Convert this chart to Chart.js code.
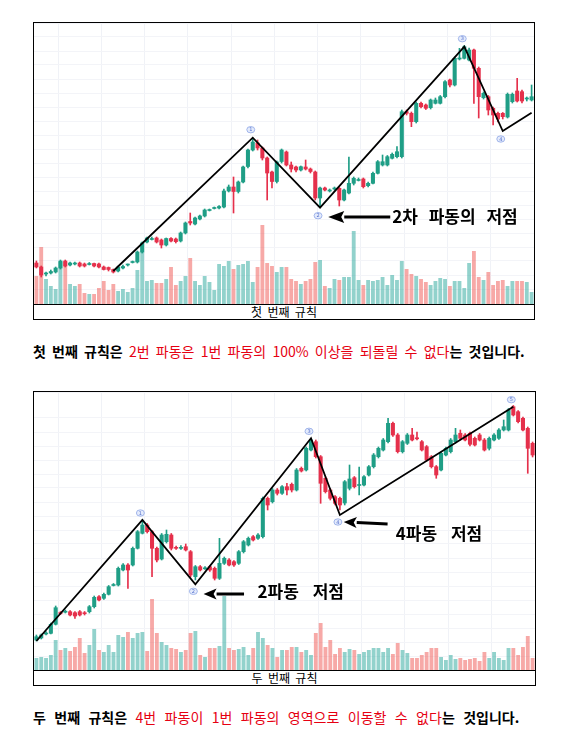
<!DOCTYPE html>
<html lang="ko">
  <head>
    <meta charset="UTF-8" />
    <title>파동 규칙</title>
    <script src="https://cdn.jsdelivr.net/npm/chart.js"></script>
    <style>
      body { margin: 0; background: #fff; width: 565px; height: 749px; position: relative; overflow: hidden; font-family: "Noto Sans CJK KR", sans-serif; }
      .panel { position: absolute; border: 1px solid #000; }
      .plot { position: relative; }
      .cap { height: 14px; border-top: 1px solid #000; font-size: 12px; line-height: 14px; text-align: center; word-spacing: 2px; }
      .rule { position: absolute; left: 33px; margin: 0; font-size: 14px; line-height: 16px; white-space: nowrap; word-spacing: 2.3px; color: #000; }
      .rule b { font-weight: 700; }
      .rule span { color: #e60012; }
    </style>
  </head>
  <body>
    <div class="panel" style="left:33px;top:22px;width:500px">
      <div class="plot" style="height:281px"><canvas id="chart1"></canvas></div>
      <div class="cap">첫 번째 규칙</div>
    </div>
    <p class="rule" style="top:343px"><b>첫 번째 규칙은 </b><span>2번 파동은 1번 파동의 100% 이상을 되돌릴 수 없다</span><b>는 것입니다.</b></p>

    <div class="panel" style="left:33px;top:391px;width:501px">
      <div class="plot" style="height:278px"><canvas id="chart2"></canvas></div>
      <div class="cap">두 번째 규칙</div>
    </div>
    <p class="rule" style="top:709px;word-spacing:4.5px"><b>두 번째 규칙은 </b><span>4번 파동이 1번 파동의 영역으로 이동할 수 없다</span><b>는 것입니다.</b></p>

    <script>
      // ---- first chart (rule 1) ----
      const open1 = [40,36,29,30,31,35,42,38,39,40,39,38.5,39.5,39,36,35.5,33.5,32,35,38,
        40.5,41,51,61,63.5,65,63,58,64.5,64,62,70,81.5,79,84,87,92.5,94.5,95,96,
        112,116,111.5,121,136.5,153,160,155,145,131,121.5,141.5,151,138,136,133,136,134,131,105,
        115,112,114,114.7,103,110,119.7,122.5,124,117.3,119.7,129.7,138,138,144.7,146.3,146.3,191.3,189.7,181.3,
        199.7,198,195.3,199.7,199.7,206.3,223,218,244,244.7,243,253,234.7,205.3,206.3,194.7,189.7,189.7,186,201.3,
        212,211.3,204,203];
      const high1 = [42,37,31,33,36,43,43,41,41,41,40,40.5,40,40,37,36,34,37,38,39,
        42,52,61,66,66,66,64,65,65.5,65,71,81,90,86,88,94,94,96,97.5,114,
        118,126,122,137,154,165,163,156,146,132,142,154,152,141,137,137,143,135,132,116,
        116,114,116,115.5,114,146,126,125,125,121,131,142.5,148,147.5,150,156.3,193,193,191,201,
        201,199,204,205,207.5,222.5,224,246,254.7,257.5,255,254,236,211,207.5,196,191,190.5,210,210,
        224.7,213,206,218];
      const low1 = [35,26,27,29,30,34,36,37,38,36,36,38,36,35,33,32,30,31,34,37,
        40,40,50,60,63,60,55,57,61,60,61,69,78,78,83,86,92,94,94,95,
        111,90,110,120,135,152,153,143,103,115,120,140,137,131,131,132,133,130,103,96,
        112,111,113,97,102,109,118,122,115,116,119,129,137,137,144,145,145,188,176.3,180,
        195,193.5,194,199,199,205,216,217,243,244,242,199.7,185,204,188,178,181,184,185,200,
        201,200,202,202];
      const close1 = [36,28,30,31.5,35,42,37,40,40,37,37,39.5,37,36,33.5,33.5,31,36,36.5,38.5,
        41.5,51,60,65,64.5,61,58,64.5,62,61.3,70,80,80,85,87,93,93.5,95.5,96.5,112,
        116,111.5,121,136,153,161,155,145,130,121.5,141,153,138,134,133,136.3,134,131.5,105,115,
        113,112.8,115,103,113,119.7,124.7,123.5,116.3,119.7,129.7,141.3,141.3,146.3,148.7,151.3,191.3,189.7,181.3,199.7,
        196.3,194.7,203,203,206.3,221.3,218,244.7,245,256.3,253,234.7,206.3,209.7,193,188,184,186.3,208.7,208.7,
        202,202,205,206.3];
      const volume1 = [28,57,25,18,15,42,42,20,18,20,11,10,10,16,23,14,20,13,15,12,
        16,34,52,23,24,21,21,25,37,19,23,28,46,23,19,28,22,14,40,38,
        43,35,39,40,43,22,37,79,41,38,32,37,37,25,23,20,23,25,42,44,
        18,16,25,24,27,27,73,24,19,24,23,24,27,19,29,24,43,35,30,28,
        25,22,19,23,26,25,18,23,23,16,41,53,27,24,32,19,23,24,18,23,
        23,23,22,12];
      const waveIdx1 = [16, 45, 59, 89, 97, 103];
      const wavePrice1 = [32, 165.3, 95.3, 256.3, 172, 190.3];
      const waveTags1 = ["", "①", "②", "③", "④", ""];

      // ---- second chart (rule 2) ----
      const open2 = [30,32,36,36.7,45.7,57.5,57.8,58.3,57.3,58.3,57.3,58.3,63.3,73.3,71.7,75.7,84.5,85,100,105,
        105,121.7,136.7,145,138.3,121.7,111,128.3,135,122.7,121.7,123.3,118.3,93.3,103.3,101.2,103.3,101.7,91.7,106.7,
        110,108.3,106.7,118.3,125,133.3,131.7,133.3,171.7,168.3,180,176.7,183.3,185.7,180,201.7,200,220,228.3,213.3,
        191.7,180,173.3,171.7,167,181.7,192.3,184.5,185,195,203.3,213.3,220,228.3,246.7,235,218.3,226.7,235,232.2,
        228.3,223.3,213.3,203.3,200,215,218.3,228.3,236.7,235,236.7,231.7,235,230,221.7,230,231.7,240,240,263.3,
        258.3,251.7,241.7,226.7];
      const high2 = [35,36,38.5,47,64,58.5,60,59.5,58.5,59.5,58.5,64.5,74,74.5,77,84.5,86.5,103,106.5,106.5,
        123,139.5,150,146.5,139.5,123,136.5,140,136.5,124,124.5,126,119.5,104.5,104.5,103.5,104.5,103,131.7,113,
        111.5,109.5,119.5,129.5,133,134.5,136.5,173,173,181.5,181.5,184.5,186.7,187,201.5,203,223,231.7,230,214.5,
        193,181.5,174.5,173,189.5,205,193.5,203,194.5,204.5,216.5,223,231.5,251.7,248,236.5,229.5,236.5,241.7,238,
        229.5,224.5,214.5,204.5,218,223,231.5,241.7,240,236.5,238,233,236.5,231.5,233,236.5,241.5,250,261.5,264.5,
        259.5,253,243,228];
      const low2 = [29,31,35,36,45,55.5,57,54,51.7,54,55,57,62,69,70.5,75,84,84,99,81.7,
        104,121,136,137,93.3,108,110,127,120,120.5,120.5,119,93,90,99,100.5,98.5,90,90.5,105.5,
        104,103.5,105.5,117,124,129,130.5,132,160,167,175,175.5,175,178,179,198,199,219,212,166.7,
        177,170,165,160,165,180,182,175,184,194,202,212,219,227,233.5,217,217,225.5,229,230,
        219,209,202,191.7,199,214,217,227,230,229,224,224,229,219,220,229,230.5,239,239,254,
        247,239,196.7,213];
      const close2 = [33.3,35,37,45.7,62.3,56.5,58.8,55,54,55,56.3,63.3,72.7,70,75.7,83.3,85.5,101.7,105,100,
        121.7,138.3,145,138.3,121.7,110,135,135.7,121.7,121.7,122.7,120,95,103.3,100,102.2,100,91.7,106.7,111.7,
        105,105,118.3,128.3,131.7,130,135,171.7,165,180,176.7,183.3,180,180,200,199,221.7,230,213.3,186.7,
        178.3,171.7,166.7,165,188.3,191,183.3,185.5,193.3,203.3,215,221.7,230,246.7,235,218.3,228.3,235,230,231.2,
        220,210,203.3,195,216.7,221.7,230,235,231.7,230,225.7,225,230,220,231.7,235,240,243.3,260,255,
        248.3,240,221.7,215];
      const volume2 = [12,13,12,15,30,20,22,19,23,32,17,25,41,20,18,25,18,35,33,38,
        32,37,38,19,71,37,28,25,22,21,18,20,37,39,15,13,22,22,24,74,
        22,20,21,23,15,22,38,32,25,22,13,20,20,23,23,18,20,15,37,47,
        23,30,16,22,18,21,20,16,18,20,22,22,18,22,16,27,20,17,12,12,
        15,18,22,22,13,10,15,11,12,10,11,12,9,18,12,18,12,10,22,22,
        15,23,34,12];
      const waveIdx2 = [0, 22, 33, 57, 63, 99];
      const wavePrice2 = [29, 150, 85.7, 231.7, 155, 263.3];
      const waveTags2 = ["", "①", "②", "③", "④", "⑤"];

      const UP = "#1f9e86";
      const DOWN = "#e5304b";
      const UP_VOL = "rgba(38,166,154,0.5)";
      const DOWN_VOL = "rgba(239,83,80,0.5)";

      // draws the circled wave numbers, arrows and callouts
      function makeNotes(waveIdx, wavePrice, tags, tagGap, arrows) {
        return {
          id: "notes",
          afterDatasetsDraw(chart) {
            const ctx = chart.ctx;
            const x = chart.scales.x, y = chart.scales.y;
            ctx.save();
            waveIdx.forEach((k, j) => {
              if (!tags[j]) return;
              const prev = j > 0 ? wavePrice[j - 1] : wavePrice[j + 1];
              const dy = wavePrice[j] > prev ? -tagGap : tagGap;
              const px = x.getPixelForValue(k) - 2;
              const py = y.getPixelForValue(wavePrice[j]) + dy;
              ctx.beginPath();
              ctx.ellipse(px, py, 4, 3.2, 0, 0, Math.PI * 2);
              ctx.fillStyle = "#e4ebfc";
              ctx.fill();
              ctx.lineWidth = 0.8;
              ctx.strokeStyle = "#8fa7e6";
              ctx.stroke();
              ctx.fillStyle = "#5570cc";
              ctx.font = "5px 'DejaVu Sans'";
              ctx.textAlign = "center";
              ctx.textBaseline = "middle";
              ctx.fillText(String(j), px, py + 0.3);
            });
            arrows.forEach(a => {
              const tx = x.getPixelForValue(a.tip[0]), ty = y.getPixelForValue(a.tip[1]);
              const sx = x.getPixelForValue(a.tail[0]), sy = y.getPixelForValue(a.tail[1]);
              const ang = Math.atan2(ty - sy, tx - sx);
              const bx = tx - Math.cos(ang) * a.head, by = ty - Math.sin(ang) * a.head;
              ctx.strokeStyle = "#000";
              ctx.fillStyle = "#000";
              ctx.lineWidth = 3;
              ctx.beginPath();
              ctx.moveTo(sx, sy);
              ctx.lineTo(bx, by);
              ctx.stroke();
              ctx.beginPath();
              ctx.moveTo(tx, ty);
              ctx.lineTo(bx - Math.sin(ang) * a.half, by + Math.cos(ang) * a.half);
              ctx.lineTo(bx + Math.cos(ang) * 3, by + Math.sin(ang) * 3);
              ctx.lineTo(bx + Math.sin(ang) * a.half, by - Math.cos(ang) * a.half);
              ctx.closePath();
              ctx.fill();
              ctx.font = "bold 17px 'Noto Sans CJK KR'";
              ctx.wordSpacing = a.gap + "px";
              ctx.textAlign = "left";
              ctx.textBaseline = "middle";
              ctx.fillText(a.text, x.getPixelForValue(a.at[0]), y.getPixelForValue(a.at[1]));
              ctx.wordSpacing = "0px";
            });
            ctx.restore();
          },
        };
      }

      function candleChart(id, o, h, l, c, v, waveIdx, wavePrice, tags, yMin, yMax, tagGap, arrows) {
        const labels = o.map((_, i) => i);
        const up = o.map((op, i) => c[i] >= op);
        const wave = labels.map(() => null);
        waveIdx.forEach((k, j) => { wave[k] = wavePrice[j]; });

        new Chart(document.getElementById(id), {
          type: "bar",
          data: {
            labels: labels,
            datasets: [
              {
                type: "line",
                data: wave,
                borderColor: "#000",
                borderWidth: 1.8,
                pointRadius: 0,
                spanGaps: true,
                order: 1,
              },
              {
                data: o.map((op, i) => [Math.min(op, c[i]), Math.max(op, c[i])]),
                backgroundColor: up.map(u => (u ? UP : DOWN)),
                barThickness: 3.4,
                minBarLength: 1,
                grouped: false,
                order: 2,
              },
              {
                data: l.map((lo, i) => [lo, h[i]]),
                backgroundColor: up.map(u => (u ? UP : DOWN)),
                barThickness: 1,
                minBarLength: 1,
                grouped: false,
                order: 3,
              },
              {
                data: v,
                yAxisID: "yv",
                backgroundColor: up.map(u => (u ? UP_VOL : DOWN_VOL)),
                barPercentage: 0.8,
                categoryPercentage: 1,
                grouped: false,
                order: 4,
              },
            ],
          },
          options: {
            responsive: true,
            maintainAspectRatio: false,
            animation: false,
            events: [],
            layout: { padding: 0 },
            plugins: { legend: { display: false }, tooltip: { enabled: false } },
            scales: {
              x: {
                ticks: { display: false, autoSkip: false },
                border: { display: false },
                grid: {
                  drawTicks: false,
                  color: ctx => (ctx.index % 9 === 5 ? "#f0f2f7" : "rgba(0,0,0,0)"),
                },
              },
              y: {
                min: yMin,
                max: yMax,
                ticks: { display: false, stepSize: 14 },
                border: { display: false },
                grid: { drawTicks: false, color: "#f3f4f8" },
              },
              yv: { display: false, min: 0, max: yMax - yMin },
            },
          },
          plugins: [makeNotes(waveIdx, wavePrice, tags, tagGap, arrows)],
        });
      }

      candleChart("chart1", open1, high1, low1, close1, volume1, waveIdx1, wavePrice1, waveTags1, -1, 280, 8, [
        { tip: [60.7, 86], tail: [73.6, 86], head: 16, half: 6, at: [74, 86], gap: 7, text: "2차 파동의 저점" },
      ]);

      candleChart("chart2", open2, high2, low2, close2, volume2, waveIdx2, wavePrice2, waveTags2, 0, 278, 7, [
        { tip: [34.7, 76], tail: [43.1, 76], head: 13, half: 5.5, at: [45.9, 78], gap: 10, text: "2파동 저점" },
        { tip: [63.8, 148], tail: [72.9, 146], head: 13, half: 5.5, at: [74.6, 136], gap: 10, text: "4파동 저점" },
      ]);
    </script>
  </body>
</html>
